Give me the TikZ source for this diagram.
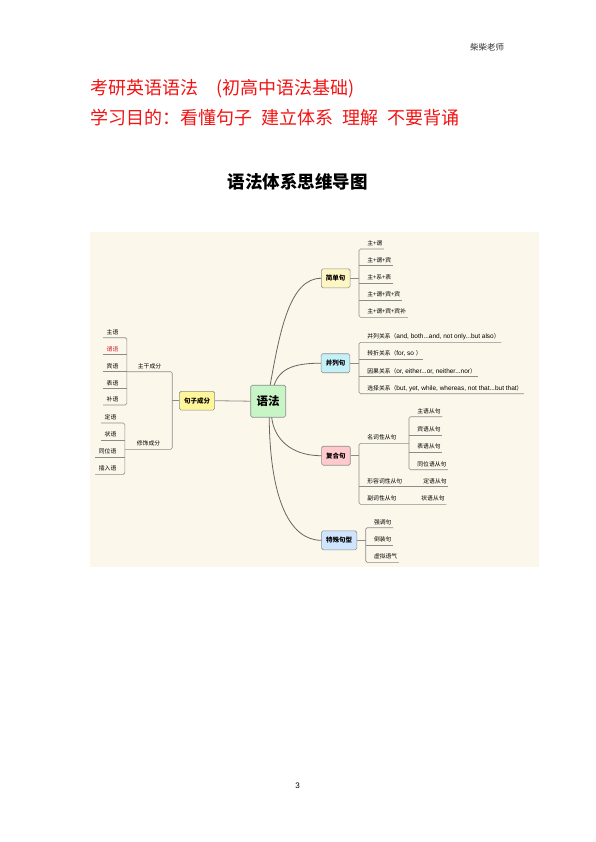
\documentclass[tikz,border=0pt]{standalone}
\usepackage{fontspec}
\setmainfont{Noto Sans CJK SC}
\newfontfamily\latinf{Liberation Sans}
\newcommand\latxt[1]{{\latinf\fontsize{6.5}{6}\selectfont #1}}
\definecolor{bgcol}{HTML}{FBF7EA}
\definecolor{lncol}{HTML}{8C8C8C}
\definecolor{crvcol}{HTML}{666666}
\definecolor{bxcol}{HTML}{8E8E8E}
\definecolor{cgreen}{HTML}{C8F5C6}
\definecolor{cyellow}{HTML}{FDF5C4}
\definecolor{cyellowb}{HTML}{FFF59A}
\definecolor{ccyan}{HTML}{C4F0F7}
\definecolor{cpink}{HTML}{FFC9CE}
\definecolor{cblue}{HTML}{CFE4FF}
\definecolor{redtitle}{HTML}{F01414}
\definecolor{redlbl}{HTML}{D0203A}
\tikzset{
  lf/.style={font=\fontsize{5.8}{6}\selectfont, inner xsep=1.5pt, inner ysep=2.3pt, text height=4.6pt, text depth=1.1pt, anchor=south west},
  lfL/.style={lf, inner xsep=3.5pt, anchor=south east},
  mid/.style={lf, inner xsep=0pt, anchor=south},
  ln/.style={draw=lncol, line width=0.6pt},
  crv/.style={draw=crvcol, line width=0.8pt},
  bx/.style={draw=bxcol, line width=0.6pt, rounded corners=1.6pt, inner xsep=4.6pt, minimum height=19pt, font=\fontsize{6.5}{7}\selectfont\bfseries}
}
\begin{document}
\begin{tikzpicture}[x=1pt,y=-1pt]
\useasboundingbox (0,0) rectangle (596,842);
% header and titles
\node[font=\fontsize{8.5}{9}\selectfont, text=black!80] (hdr) at (487,47) {柴柴老师};
\node[anchor=west, inner sep=0, font=\fontsize{18}{20}\selectfont, text=redtitle] (t1) at (90,89) {考研英语语法\hspace{18pt}(初高中语法基础)};
\node[anchor=west, inner sep=0, font=\fontsize{18}{20}\selectfont, text=redtitle] (t2) at (90,118) {学习目的：看懂句子\hspace{9pt}建立体系\hspace{9pt}理解\hspace{9pt}不要背诵};
\node[font=\fontsize{17.5}{19}\selectfont\bfseries] (sub) at (297.5,182) {语法体系思维导图};
\node[font=\latinf\fontsize{8}{9}\selectfont] (pg) at (297.5,786) {3};
% mind map background
\fill[bgcol] (90,231.7) rectangle (539,566.7);
% main boxes
\node[bx, fill=cgreen, minimum width=35pt, minimum height=32pt, font=\fontsize{11.5}{12}\selectfont\bfseries] (yf) at (268.2,401.2) {语法};
\node[bx, fill=cyellowb, minimum height=18.7pt] (jz) at (197,400.7) {句子成分};
\node[bx, fill=cyellow] (jd) at (335.7,278.3) {简单句};
\node[bx, fill=ccyan] (bl) at (335.5,363.2) {并列句};
\node[bx, fill=cpink] (fh) at (335.9,455.7) {复合句};
\node[bx, fill=cblue] (ts) at (339.2,540.3) {特殊句型};
% connectors from centre
\draw[ln, line width=0.8pt] (jz.east) -- (yf.west);
\draw[crv] ([xshift=2pt]yf.north) .. controls (280,330) and (290,278.3) .. (jd.west);
\draw[crv] ([xshift=6pt]yf.north) .. controls (280,368) and (295,363.2) .. (bl.west);
\draw[crv] ([xshift=3.5pt]yf.south) .. controls (274,438) and (290,455.7) .. (fh.west);
\draw[crv] ([xshift=1pt]yf.south) .. controls (270,500) and (290,540.3) .. (ts.west);
% ---- left side: 句子成分
\coordinate (bL) at (171.7,400.7);
\node[mid, minimum width=45pt] (zg) at (149.5,371.7) {主干成分};
\node[mid, minimum width=47pt] (xs) at (148.5,449.3) {修饰成分};
\draw[ln] (jz.west) -- (bL);
\draw[ln, rounded corners=1.5pt] (zg.south west) -- (zg.south east) -- (xs.south east) -- (xs.south west);
% 主干成分 children
\node[lfL] (z1) at (122,337.7) {主语};
\node[lfL, text=redlbl] (z2) at (122,354.7) {谓语};
\node[lfL] (z3) at (122,371.7) {宾语};
\node[lfL] (z4) at (122,388.7) {表语};
\node[lfL] (z5) at (122,405) {补语};
\draw[ln, rounded corners=1.5pt] (z1.south west) -- (z1.south west -| zg.south west) -- (z5.south west -| zg.south west) -- (z5.south west);
\draw[ln] (z2.south west) -- (z2.south west -| zg.south west);
\draw[ln] (z3.south west) -- (z3.south west -| zg.south west);
\draw[ln] (z4.south west) -- (z4.south west -| zg.south west);
% 修饰成分 children
\node[lfL] (s1) at (120,423) {定语};
\node[lfL] (s2) at (120,440) {状语};
\node[lfL] (s3) at (120,457.3) {同位语};
\node[lfL] (s4) at (120,474.3) {插入语};
\draw[ln, rounded corners=1.5pt] (s1.south west) -- (s1.south west -| xs.south west) -- (s4.south west -| xs.south west) -- (s4.south west);
\draw[ln] (s2.south west) -- (s2.south west -| xs.south west);
\draw[ln] (s3.south west) -- (s3.south west -| xs.south west);
% ---- 简单句
\coordinate (bJ) at (359,278.3);
\draw[ln] (jd.east) -- (bJ);
\node[lf] (j1) at (365.7,249) {主+谓};
\node[lf] (j2) at (365.7,265.7) {主+谓+宾};
\node[lf] (j3) at (365.7,283) {主+系+表};
\node[lf] (j4) at (365.7,300.3) {主+谓+宾+宾};
\node[lf] (j5) at (365.7,317.3) {主+谓+宾+宾补};
\draw[ln, rounded corners=1.5pt] (j1.south east) -- (bJ |- j1.south) -- (bJ |- j5.south) -- (j5.south east);
\draw[ln] (bJ |- j2.south) -- (j2.south east);
\draw[ln] (bJ |- j3.south) -- (j3.south east);
\draw[ln] (bJ |- j4.south) -- (j4.south east);
% ---- 并列句
\coordinate (bB) at (359,363.2);
\draw[ln] (bl.east) -- (bB);
\node[lf] (p1) at (365.7,342.3) {并列关系（\latxt{and, both...and, not only...but also}）};
\node[lf] (p2) at (365.7,359) {转折关系（\latxt{for, so }）};
\node[lf] (p3) at (365.7,376.7) {因果关系（\latxt{or, either...or, neither...nor}）};
\node[lf] (p4) at (365.7,393.7) {选择关系（\latxt{but, yet, while, whereas, not that...but that}）};
\draw[ln, rounded corners=1.5pt] (p1.south east) -- (bB |- p1.south) -- (bB |- p4.south) -- (p4.south east);
\draw[ln] (bB |- p2.south) -- (p2.south east);
\draw[ln] (bB |- p3.south) -- (p3.south east);
% ---- 复合句
\coordinate (bF) at (359,455.7);
\draw[ln] (fh.east) -- (bF);
\node[lf] (mc) at (365.7,443.3) {名词性从句};
\coordinate (bN) at (409,443.3);
\node[lf] (xr) at (365.7,486.7) {形容词性从句};
\node[lf] (dc) at (421.7,486.7) {定语从句};
\node[lf] (fc) at (365.7,504.3) {副词性从句};
\node[lf] (zc) at (419.7,504.3) {状语从句};
\draw[ln, rounded corners=1.5pt] (bN) -- (bF |- mc.south) -- (bF |- fc.south) -- (zc.south east);
\draw[ln] (bF |- xr.south) -- (dc.south east);
\node[lf] (n1) at (415.7,416.7) {主语从句};
\node[lf] (n2) at (415.7,435) {宾语从句};
\node[lf] (n3) at (415.7,452.3) {表语从句};
\node[lf] (n4) at (415.7,469.7) {同位语从句};
\draw[ln, rounded corners=1.5pt] (n1.south east) -- (bN |- n1.south) -- (bN |- n4.south) -- (n4.south east);
\draw[ln] (bN |- n2.south) -- (n2.south east);
\draw[ln] (bN |- n3.south) -- (n3.south east);
% ---- 特殊句型
\coordinate (bT) at (365.7,540.3);
\draw[ln] (ts.east) -- (bT);
\node[lf] (q1) at (372.3,527.7) {强调句};
\node[lf] (q2) at (372.3,545) {倒装句};
\node[lf] (q3) at (372.3,562.3) {虚拟语气};
\draw[ln, rounded corners=1.5pt] (q1.south east) -- (bT |- q1.south) -- (bT |- q3.south) -- (q3.south east);
\draw[ln] (bT |- q2.south) -- (q2.south east);
\end{tikzpicture}
\end{document}
